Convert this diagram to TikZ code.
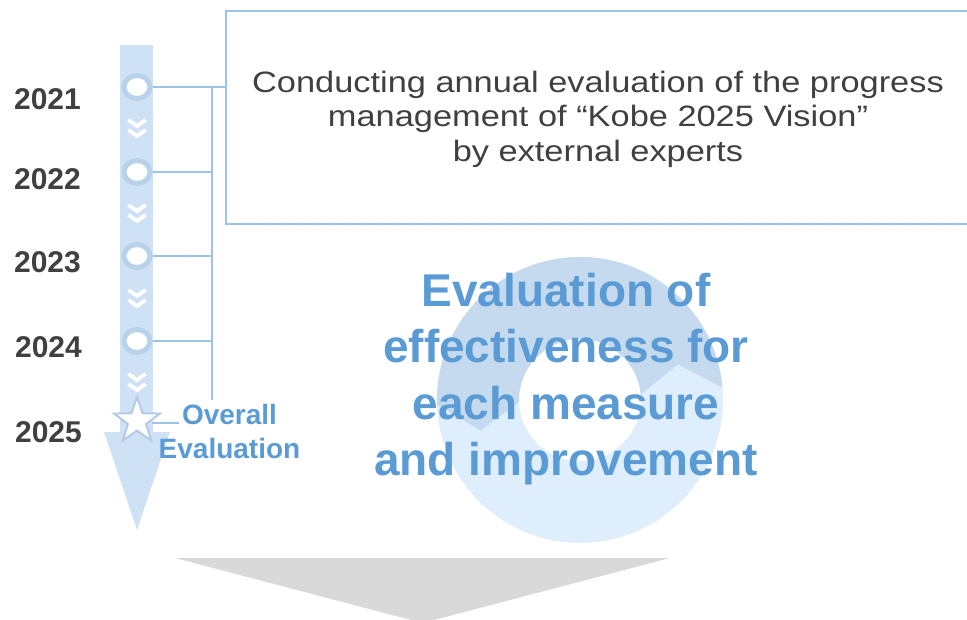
\documentclass[tikz,border=0pt]{standalone}
\usepackage{fontspec}
\setmainfont{Liberation Sans}
\usepackage{tikz}
\usetikzlibrary{positioning, shapes.geometric}

\definecolor{barblue}{RGB}{207,226,245}
\definecolor{dotblue}{RGB}{184,210,236}
\definecolor{lineblue}{RGB}{157,195,230}
\definecolor{starblue}{RGB}{180,202,232}
\definecolor{textblue}{RGB}{91,155,213}
\definecolor{textgray}{RGB}{64,64,64}
\definecolor{ringdark}{RGB}{198,218,239}
\definecolor{ringlight}{RGB}{222,238,252}
\definecolor{arrowgray}{RGB}{217,217,217}

\begin{document}
\begin{tikzpicture}[x=1pt, y=-1pt]
        \tikzset{year/.style = {font=\fontsize{30}{36}\selectfont\bfseries, text=textgray, anchor=base, inner sep=0pt}}
        \tikzset{dot/.style = {ellipse, draw=dotblue, line width=5pt, fill=white, minimum width=26pt, minimum height=23pt, inner sep=0pt}}
        \tikzset{link/.style = {draw=lineblue, line width=1.5pt}}
        \tikzset{chev/.style = {draw=white, line width=3.8pt}}

        \useasboundingbox (0,0) rectangle (967,620);

        % cycle in the background
        \begin{scope}[x=1pt, y=1pt, shift={(580pt,-400pt)}]
            \fill[ringlight, even odd rule] (0,0) circle[radius=143] (0,0) circle[radius=61];
            \fill[ringdark] (182:143) arc[start angle=182, end angle=5, radius=143]
                -- (20:104) -- (5:61) arc[start angle=5, end angle=182, radius=61]
                -- (197:104) -- cycle;
        \end{scope}

        \fill[arrowgray] (175,558) -- (670,558) -- (422.5,623) -- cycle;

        \node[draw=lineblue, line width=2pt, anchor=north west, outer sep=0pt, inner sep=0pt,
              minimum width=760pt, minimum height=213pt] (box) at (226,11) {};
        \node[font=\fontsize{29.5}{34.5}\selectfont, text=textgray, align=center, xscale=1.165] (note) at (598,119)
            {Conducting annual evaluation of the progress\\management of “Kobe 2025 Vision”\\by external experts};

        % timeline
        \fill[barblue] (120,45) rectangle (153,432);
        \fill[barblue] (104,432) -- (170,432) -- (137,530) -- cycle;
        \foreach \y in {129,214,299,383} {
            \draw[chev] (128.5,\y-9) -- (137,\y-3) -- (145.5,\y-9);
            \draw[chev] (128.5,\y+1) -- (137,\y+7) -- (145.5,\y+1);
        }

        \node[dot] (c1) at (137,87) {};
        \node[dot] (c2) at (137,172) {};
        \node[dot] (c3) at (137,256) {};
        \node[dot] (c4) at (137,341) {};
        \node[star, star points=5, star point ratio=2.5, minimum size=48pt, inner sep=0pt,
              draw=starblue, fill=white, line width=2pt] (star) at (137,421) {};

        \node[year] (y1) at (47.5,110) {2021};
        \node[year] (y2) at (47.5,190) {2022};
        \node[year] (y3) at (47.5,273) {2023};
        \node[year] (y4) at (48.5,358) {2024};
        \node[year] (y5) at (48.5,442) {2025};

        % links
        \coordinate (rail) at (212,0);
        \coordinate (railend) at (212,400);
        \coordinate (starend) at (179,423);
        \draw[link] (c1.east) -- (c1 -| box.west);
        \foreach \i in {2,3,4}
            \draw[link] (c\i.east) -- (c\i -| rail);
        \draw[link] (c1 -| rail) -- (railend);
        \draw[link] (star.east |- starend) -- (starend);

        \node[font=\fontsize{28}{34}\selectfont\bfseries, text=textblue, align=center] (overall) at (229.5,431)
            {Overall\\Evaluation};

        \node[font=\fontsize{46}{56.3}\selectfont\bfseries, text=textblue, align=center] (effect) at (566,379)
            {Evaluation of\\effectiveness for\\each measure\\and improvement};

    \end{tikzpicture}
\end{document}
